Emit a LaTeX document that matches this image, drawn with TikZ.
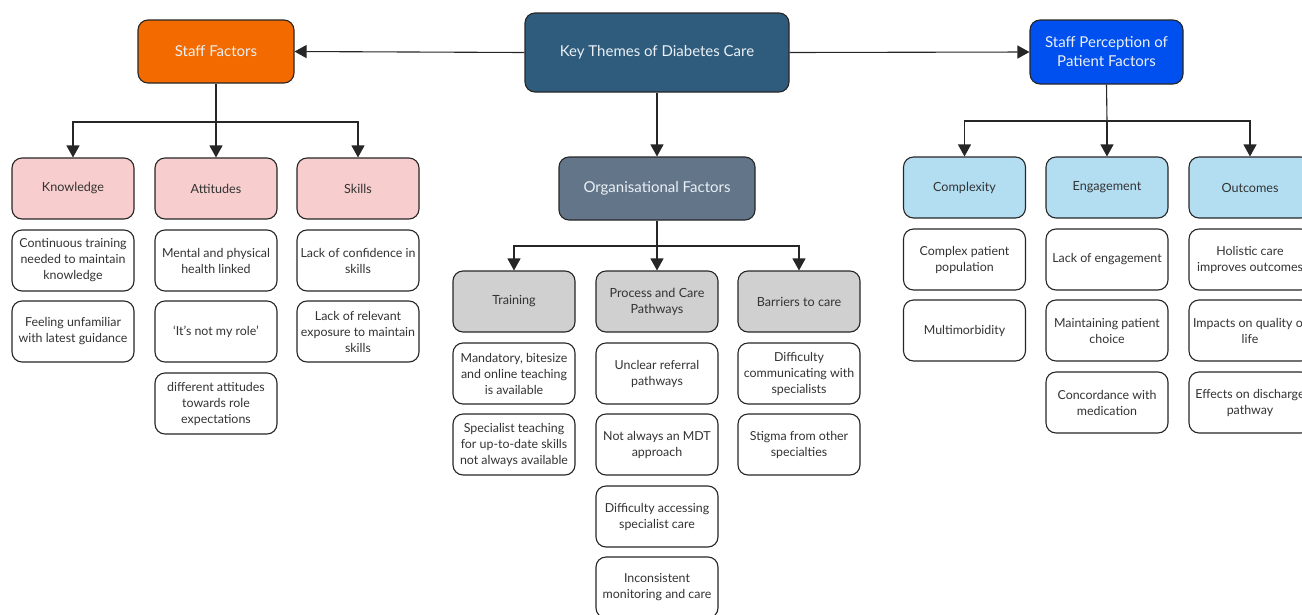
\documentclass[tikz,border=0pt]{standalone}
\usepackage{fontspec}
\setmainfont{Lato}
\usetikzlibrary{arrows.meta}
\definecolor{cKey}{HTML}{2F5C7D}
\definecolor{cStaff}{HTML}{F36B00}
\definecolor{cPat}{HTML}{0050EF}
\definecolor{cOrg}{HTML}{637689}
\definecolor{cPink}{HTML}{F7CDCD}
\definecolor{cGray}{HTML}{D0D0D0}
\definecolor{cLBlue}{HTML}{B3DEF2}
\definecolor{cTxt}{HTML}{333333}
\definecolor{cLight}{HTML}{EAF0F6}
\begin{document}
\begin{tikzpicture}[x=1pt,y=-1pt,
  base/.style={draw=black!85, line width=1.1pt, rounded corners=10pt, align=center, inner sep=0pt},
  item/.style={base, fill=white, text=cTxt, font=\fontsize{12.4}{16}\selectfont, minimum width=122pt, minimum height=61pt},
  sub/.style={item, font=\fontsize{12.6}{16}\selectfont},
  top/.style={base, text=cLight, font=\fontsize{15}{19}\selectfont},
  conn/.style={line width=1.1pt, draw=black!85},
  arr/.style={conn, -{Triangle[length=12pt,width=13pt]}}
]
\useasboundingbox (0,0) rectangle (1302,614);
\clip (0,0) rectangle (1302,614);

% top level
\node[top, fill=cKey, minimum width=264pt, minimum height=79pt] (key) at (657,52.5) {Key Themes of Diabetes Care};
\node[top, fill=cStaff, minimum width=156pt, minimum height=63pt] (staff) at (216,51.5) {Staff Factors};
\node[top, fill=cPat, minimum width=153pt, minimum height=64pt] (pat) at (1106.5,52) {Staff Perception of\\Patient Factors};
\node[top, fill=cOrg, minimum width=196pt, minimum height=63pt] (org) at (657,188.5) {Organisational Factors};

\draw[arr] (key.west) -- (staff.east);
\draw[arr] (key.east) -- (pat.west);
\draw[arr] (key.south) -- (org.north);

% staff children
\node[sub, fill=cPink] (know) at (73,188.5) {Knowledge};
\node[sub, fill=cPink] (att) at (216,188.5) {Attitudes};
\node[sub, fill=cPink] (skill) at (358,188.5) {Skills};
\coordinate (sj) at (216,122);
\draw[conn] (staff.south) -- (sj);
\draw[arr] (sj) -- (att.north);
\draw[arr] (sj) -| (know.north);
\draw[arr] (sj) -| (skill.north);

\node[item] (k1) at (73,260.5) {Continuous training\\needed to maintain\\knowledge};
\node[item] (k2) at (73,331.5) {Feeling unfamiliar\\with latest guidance};
\node[item] (a1) at (216,260.5) {Mental and physical\\health linked};
\node[item] (a2) at (216,331.5) {‘It’s not my role’};
\node[item] (a3) at (216,403.5) {different attitudes\\towards role\\expectations};
\node[item] (s1) at (358,260.5) {Lack of confidence in\\skills};
\node[item] (s2) at (358,331.5) {Lack of relevant\\exposure to maintain\\skills};

% organisational children
\node[sub, fill=cGray] (train) at (514,301.5) {Training};
\node[sub, fill=cGray] (proc) at (657,301.5) {Process and Care\\Pathways};
\node[sub, fill=cGray] (barr) at (799,301.5) {Barriers to care};
\coordinate (oj) at (657,246);
\draw[conn] (org.south) -- (oj);
\draw[arr] (oj) -- (proc.north);
\draw[arr] (oj) -| (train.north);
\draw[arr] (oj) -| (barr.north);

\node[item] (t1) at (514,373.5) {Mandatory, bitesize\\and online teaching\\is available};
\node[item] (t2) at (514,444.5) {Specialist teaching\\for up-to-date skills\\not always available};
\node[item] (p1) at (657,373.5) {Unclear referral\\pathways};
\node[item] (p2) at (657,444.5) {Not always an MDT\\approach};
\node[item] (p3) at (657,516.5) {Difficulty accessing\\specialist care};
\node[item] (p4) at (657,587.5) {Inconsistent\\monitoring and care};
\node[item] (b1) at (799,373.5) {Difficulty\\communicating with\\specialists};
\node[item] (b2) at (799,444.5) {Stigma from other\\specialties};

% patient children
\node[sub, fill=cLBlue] (comp) at (964.5,187.5) {Complexity};
\node[sub, fill=cLBlue] (eng) at (1107,187.5) {Engagement};
\node[sub, fill=cLBlue] (out) at (1250,187.5) {Outcomes};
\coordinate (pj) at (1107,121);
\draw[conn] (pat.south) -- (pj);
\draw[arr] (pj) -- (eng.north);
\draw[arr] (pj) -| (comp.north);
\draw[arr] (pj) -| (out.north);

\node[item] (c1) at (964.5,259.5) {Complex patient\\population};
\node[item] (c2) at (964.5,330.5) {Multimorbidity};
\node[item] (e1) at (1107,259.5) {Lack of engagement};
\node[item] (e2) at (1107,330.5) {Maintaining patient\\choice};
\node[item] (e3) at (1107,402.5) {Concordance with\\medication};
\node[item] (o1) at (1250,259.5) {Holistic care\\improves outcomes};
\node[item] (o2) at (1250,330.5) {Impacts on quality of\\life};
\node[item] (o3) at (1250,402.5) {Effects on discharge\\pathway};
\end{tikzpicture}
\end{document}
